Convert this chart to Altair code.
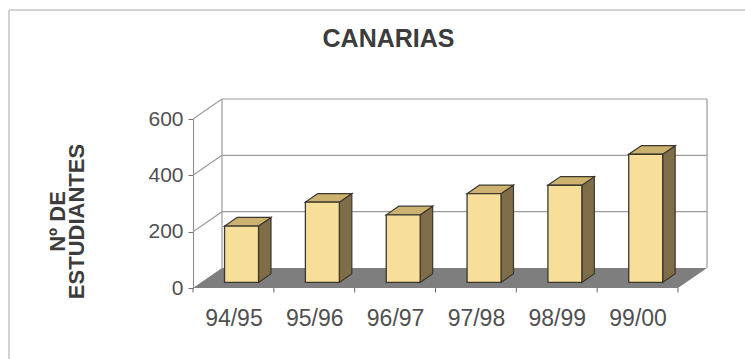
import altair as alt
import pandas as pd

# Students per academic year, Canary Islands
cursos = ["94/95", "95/96", "96/97", "97/98", "98/99", "99/00"]
estudiantes = [200, 285, 240, 315, 345, 455]
y_ticks = [0, 200, 400, 600]

# oblique "3-D" projection, in data units
DX = 0.359      # full depth along the category axis
DY = 71.0       # full depth along the value axis
F = 0.28        # depth of the bar fronts (fraction of full depth)
B = 0.43        # bar depth (fraction of full depth)
BW = 0.42       # bar width (fraction of a category)
N = len(cursos)
YMAX = 600

# wall outlines and back-wall gridlines
seg = []
for v in y_ticks[1:]:
    seg.append(dict(x=DX, y=v + DY, x2=N + DX, y2=v + DY))   # back wall
    seg.append(dict(x=0, y=v, x2=DX, y2=v + DY))             # side wall
seg.append(dict(x=DX, y=DY, x2=DX, y2=YMAX + DY))
seg.append(dict(x=N + DX, y=DY, x2=N + DX, y2=YMAX + DY))
seg_df = pd.DataFrame(seg)

# floor parallelogram
floor_df = pd.DataFrame({
    "y": [0, DY],
    "x": [0, DX],
    "x2": [N, N + DX],
})

# category boundary ticks under the floor edge
tick_df = pd.DataFrame({"x": list(range(N + 1)), "y": [0] * (N + 1), "y2": [-16] * (N + 1)})

front, side, top = [], [], []
for i, (c, v) in enumerate(zip(cursos, estudiantes)):
    x0 = i + 0.5 - BW / 2 + F * DX
    x1 = i + 0.5 + BW / 2 + F * DX
    b0 = F * DY
    front.append(dict(curso=c, x=x0, x2=x1, y=b0, y2=v + b0))
    for t in (0.0, 1.0):
        side.append(dict(curso=c, x=x1 + t * B * DX,
                         y=b0 + t * B * DY, y2=v + b0 + t * B * DY))
        top.append(dict(curso=c, y=v + b0 + t * B * DY,
                        x=x0 + t * B * DX, x2=x1 + t * B * DX))
front_df = pd.DataFrame(front)
side_df = pd.DataFrame(side)
top_df = pd.DataFrame(top)

label_vals = [i + 0.5 for i in range(N)]
label_expr = "[" + ",".join(f"'{c}'" for c in cursos) + "][round(datum.value - 0.5)]"

xs = alt.Scale(domain=[0, N], nice=False, zero=False)
ys = alt.Scale(domain=[0, YMAX], nice=False)

STROKE = "#3b3830"
GRID = "#9a9a9a"

x_axis = alt.Axis(values=label_vals, labelExpr=label_expr, ticks=False, domain=False,
                  grid=False, title=None, labelFontSize=23, labelColor="#505050",
                  labelPadding=19, labelFont="Liberation Sans")
y_axis = alt.Axis(values=y_ticks, grid=False, tickSize=5, tickColor="#777777",
                  domainColor="#8a8a8a", labelFontSize=21, labelColor="#505050",
                  labelPadding=5, labelFont="Liberation Sans",
                  title=["Nº DE\u00a0\u00a0\u00a0\u00a0", "ESTUDIANTES"],
                  titleFont="Liberation Sans", titleFontSize=22, titleFontWeight="bold",
                  titleColor="#3c3c3c", titleLineHeight=19, titleAngle=270,
                  titleAlign="center", titleBaseline="alphabetic",
                  titleX=-129, titleY=102)

walls = alt.Chart(seg_df).mark_rule(color=GRID, strokeWidth=1.2).encode(
    x=alt.X("x:Q", scale=xs, axis=x_axis),
    y=alt.Y("y:Q", scale=ys, axis=y_axis),
    x2="x2:Q", y2="y2:Q",
)

floor = alt.Chart(floor_df).mark_area(orient="horizontal", color="#7e7e7e", opacity=1).encode(
    y=alt.Y("y:Q", scale=ys, stack=None),
    x=alt.X("x:Q", scale=xs, stack=None),
    x2="x2:Q",
)

ticks = alt.Chart(tick_df).mark_rule(color="#666666", strokeWidth=1).encode(
    x=alt.X("x:Q", scale=xs), y=alt.Y("y:Q", scale=ys), y2="y2:Q",
)

sides = alt.Chart(side_df).mark_area(color="#7f6c48", stroke=STROKE, strokeWidth=1.2,
                                     opacity=1).encode(
    x=alt.X("x:Q", scale=xs, stack=None),
    y=alt.Y("y:Q", scale=ys, stack=None),
    y2="y2:Q",
    detail="curso:N",
)

tops = alt.Chart(top_df).mark_area(orient="horizontal", color="#cdb26f", stroke=STROKE,
                                   strokeWidth=1.2, opacity=1).encode(
    y=alt.Y("y:Q", scale=ys, stack=None),
    x=alt.X("x:Q", scale=xs, stack=None),
    x2="x2:Q",
    detail="curso:N",
)

fronts = alt.Chart(front_df).mark_rect(color="#f8df99", stroke=STROKE, strokeWidth=1.3).encode(
    x=alt.X("x:Q", scale=xs), x2="x2:Q",
    y=alt.Y("y:Q", scale=ys), y2="y2:Q",
)

# outer frame of the chart area
frame_top = alt.Chart(tick_df.head(1)).mark_rule(color="#c4c4c4", strokeWidth=1.5).encode(
    x=alt.value(-184), x2=alt.value(560), y=alt.value(-109)
)
frame_left = alt.Chart(tick_df.head(1)).mark_rule(color="#c4c4c4", strokeWidth=1.5).encode(
    x=alt.value(-184), y=alt.value(-109), y2=alt.value(240)
)

chart = alt.layer(frame_top, frame_left, walls, floor, ticks, sides, tops, fronts).properties(
    width=485,
    height=169,
    autosize=alt.AutoSizeParams(type="none"),
    padding={"left": 193, "top": 119, "right": 67, "bottom": 71},
    background="white",
    title=alt.TitleParams(
        "CANARIAS", font="Liberation Sans", fontSize=25, fontWeight="bold",
        color="#3c3c3c", anchor="middle", dx=-47, offset=-63, baseline="alphabetic",
    ),
).configure_view(stroke=None)

chart.save("out.html", embed_options={"renderer": "svg", "actions": False})
